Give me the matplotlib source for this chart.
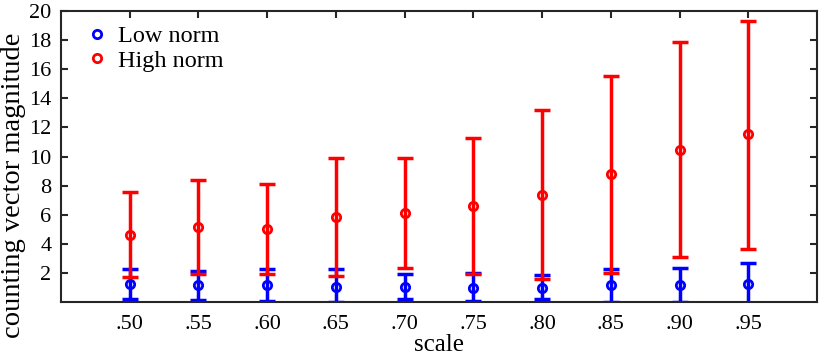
import numpy as np
import matplotlib
matplotlib.use("Agg")
from matplotlib import pyplot as plt

# scale categories
scales = ['.50', '.55', '.60', '.65', '.70', '.75', '.80', '.85', '.90', '.95']

# low norm: mean, lower end, upper end of the bars
low_mean = [1.23, 1.16, 1.16, 1.07, 1.07, 1.00, 1.00, 1.16, 1.16, 1.23]
low_lo = [0.24, 0.15, 0.08, 0.04, 0.24, 0.10, 0.24, 0.04, 0.04, -0.20]
low_hi = [2.26, 2.12, 2.26, 2.26, 1.91, 2.00, 1.84, 2.26, 2.33, 2.67]

# high norm
high_mean = [4.60, 5.19, 5.03, 5.87, 6.10, 6.60, 7.34, 8.83, 10.45, 11.53]
high_lo = [1.75, 1.96, 1.96, 1.82, 2.33, 1.91, 1.57, 2.00, 3.13, 3.65]
high_hi = [7.55, 8.40, 8.12, 9.90, 9.90, 11.30, 13.18, 15.53, 17.85, 19.31]

plt.rcParams['font.family'] = ['Liberation Serif', 'DejaVu Serif']
plt.rcParams['font.size'] = 16

x = np.arange(1, len(scales) + 1)

fig = plt.figure(figsize=(8.22, 3.58), dpi=100)
ax = fig.add_axes([0.0742, 0.156, 0.9198, 0.8136])

def draw(mean, lo, hi, col, name):
    mean = np.array(mean)
    err = [mean - np.array(lo), np.array(hi) - mean]
    ax.errorbar(x, mean, yerr=err, fmt='none', ecolor=col, elinewidth=2.5,
                capsize=5.5, capthick=2.5, clip_on=True)
    ax.plot(x, mean, 'o', mfc='none', mec=col, mew=2, ms=6, ls='none', label=name)

draw(low_mean, low_lo, low_hi, (0, 0, 1), 'Low norm')
draw(high_mean, high_lo, high_hi, (1, 0, 0), 'High norm')

ax.set_xlim(0, len(scales) + 1)
ax.set_ylim(0, 20)
ax.set_xticks(x)
ax.set_xticklabels(scales)
ax.set_yticks(np.arange(2, 21, 2))
ax.tick_params(direction='in', top=True, right=True, length=5, width=1.5,
               color='#262626', labelsize=16)
ax.tick_params(axis='x', pad=9)
ax.tick_params(axis='y', pad=7)
for s in ax.spines.values():
    s.set_linewidth(1.5)
    s.set_color('#262626')

ax.set_xlabel('scale', fontsize=18, labelpad=0)
ax.set_ylabel('counting vector magnitude', fontsize=20.5)
ax.yaxis.set_label_coords(-0.046, 0.40)

ax.legend(loc='upper left', bbox_to_anchor=(-0.006, 1.025), frameon=False,
          fontsize=17.5, handletextpad=0.15, labelspacing=0.1, handlelength=1.5)

fig.savefig('out.png', dpi=100)
